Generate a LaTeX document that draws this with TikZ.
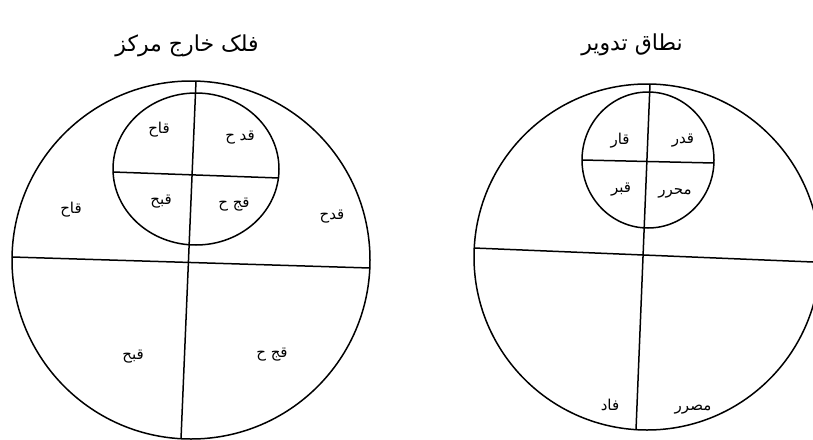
\documentclass[tikz,border=0pt]{standalone}
\usepackage{fontspec}
\newfontfamily\arabicfont[Script=Arabic]{DejaVu Sans}
\TeXXeTstate=1
\usetikzlibrary{positioning}

\begin{document}
\begin{tikzpicture}[x=1pt, y=-1pt, line width=1.5pt,
    lbl/.style={font=\arabicfont\fontsize{15}{17}\selectfont, inner sep=0pt},
    ttl/.style={font=\arabicfont\fontsize{22}{25}\selectfont, inner sep=0pt}]
  \useasboundingbox (0,0) rectangle (813,439);

  % left figure: eccentric deferent
  \node[ttl] (ttlA) at (187,46) {\beginR فلک خارج مرکز\endR};
  \draw (191,260) circle [radius=179];
  \draw (196,169) ellipse [x radius=83, y radius=76];
  \coordinate (aT) at (196,81);
  \coordinate (aB) at (181,439);
  \coordinate (aL) at (12,257);
  \coordinate (aR) at (370,268);
  \coordinate (aiL) at (113,172);
  \coordinate (aiR) at (279,178);
  \draw (aT) -- (aB);
  \draw (aL) -- (aR);
  \draw (aiL) -- (aiR);
  \node[lbl] (aiqa) at (159,130) {\beginR قاح\endR};
  \node[lbl] (aiqd) at (240,138) {\beginR قد ح\endR};
  \node[lbl] (aiqb) at (161,202) {\beginR قبح\endR};
  \node[lbl] (aiqj) at (234,205) {\beginR قج ح\endR};
  \node[lbl] (aqa) at (71,210) {\beginR قاح\endR};
  \node[lbl] (aqd) at (332,217) {\beginR قدح\endR};
  \node[lbl] (aqb) at (133,357) {\beginR قبح\endR};
  \node[lbl] (aqj) at (272,355) {\beginR قج ح\endR};

  % right figure: epicycle belt
  \node[ttl] (ttlB) at (632,45) {\beginR نطاق تدویر\endR};
  \draw (647,257) circle [radius=173];
  \draw (648,160) ellipse [x radius=66, y radius=68];
  \coordinate (bT) at (650,84);
  \coordinate (bB) at (636,430);
  \coordinate (bL) at (474,248);
  \coordinate (bR) at (813,262);
  \coordinate (biL) at (582,160);
  \coordinate (biR) at (714,163);
  \draw (bT) -- (bB);
  \draw (bL) -- (bR);
  \draw (biL) -- (biR);
  \node[lbl] (biqa) at (620,141) {\beginR قار\endR};
  \node[lbl] (biqd) at (683,141) {\beginR قدر\endR};
  \node[lbl] (biqb) at (621,190) {\beginR قبر\endR};
  \node[lbl] (biqj) at (675,193) {\beginR محرر\endR};
  \node[lbl] (bqa) at (610,405) {\beginR فاد\endR};
  \node[lbl] (bqj) at (693,410) {\beginR مصرر\endR};
\end{tikzpicture}
\end{document}
